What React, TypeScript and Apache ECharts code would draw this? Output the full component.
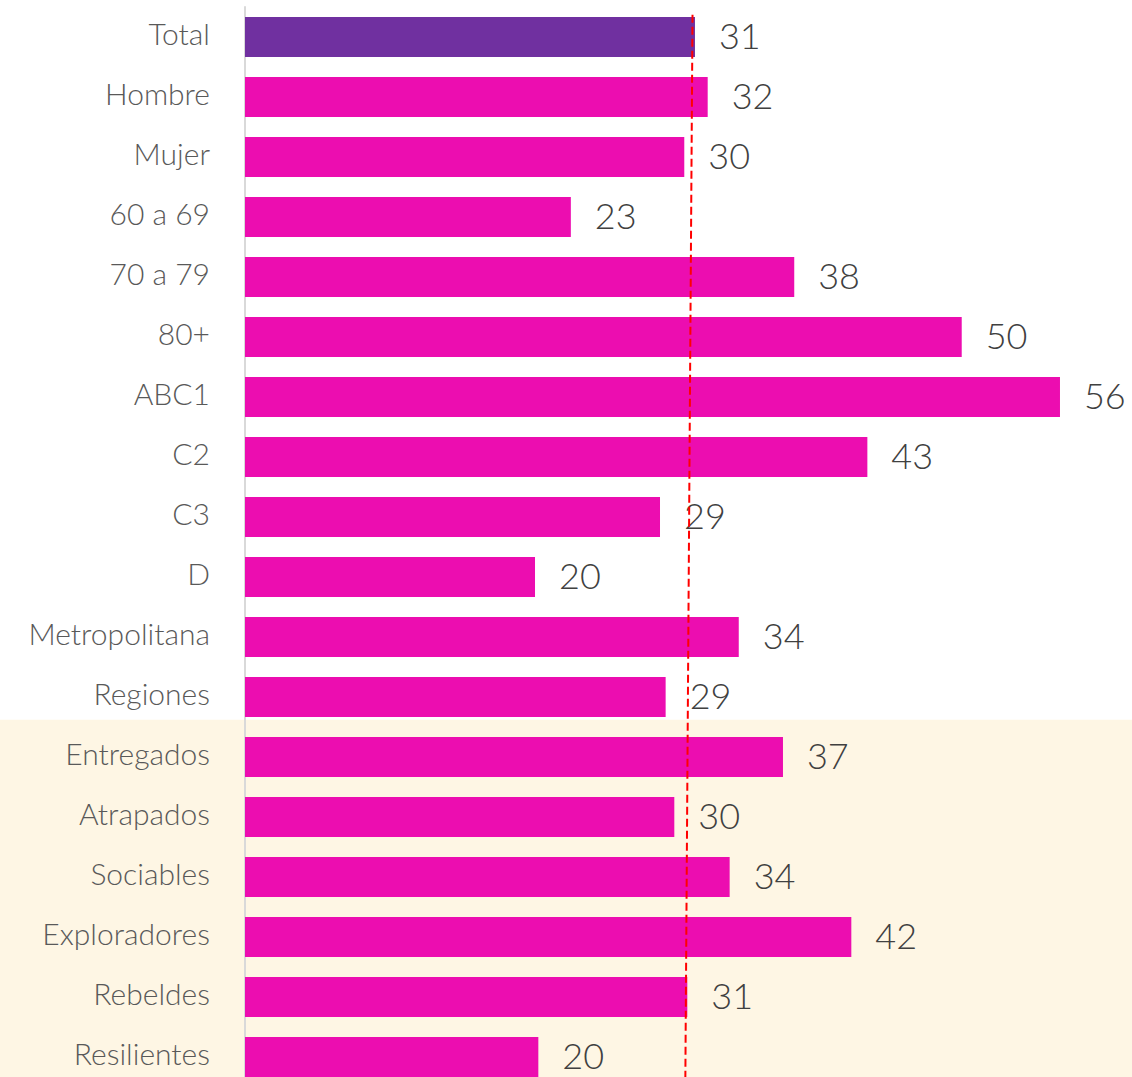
import React, { useEffect, useRef } from "react";
import * as echarts from "echarts";

const categories = [
  "Total", "Hombre", "Mujer", "60 a 69", "70 a 79", "80+", "ABC1", "C2", "C3", "D",
  "Metropolitana", "Regiones", "Entregados", "Atrapados", "Sociables", "Exploradores",
  "Rebeldes", "Resilientes",
];
const values = [
  31.14, 32.02, 30.4, 22.55, 38.01, 49.6, 56.4, 43.07, 28.72, 20.07,
  34.17, 29.11, 37.23, 29.71, 33.54, 41.96, 30.61, 20.3,
];
// reference (average) dashed line: [x value, row position]
const refLineX = [30.97, 30.47];
const refLineRow = [-0.37, 17.5];
// highlighted segment band starts between these rows
const bandStartRow = 11.38;

const TOTAL_COLOR = "#7030A0";
const BAR_COLOR = "#EC0DB0";
const BAND_COLOR = "#FEF6E4";
const FONT = "Lato";

export default function App() {
  const ref = useRef<HTMLDivElement>(null);
  useEffect(() => {
    if (!ref.current) return;
    const chart = echarts.init(ref.current, null, { renderer: "svg" });
    chart.setOption({
      animation: false,
      grid: { left: 245, top: 7, height: 1080, width: 867 },
      xAxis: { type: "value", min: 0, max: 60, show: false },
      yAxis: [
        {
          type: "category",
          data: categories,
          inverse: true,
          offset: 1,
          axisTick: { show: false },
          axisLine: { show: true, lineStyle: { color: "#d9d9d9", width: 2 } },
          axisLabel: {
            margin: 34,
            fontFamily: FONT,
            fontWeight: 300,
            fontSize: 30,
            color: "#595959",
            verticalAlign: "bottom",
            lineHeight: 8,
          },
          splitLine: { show: false },
        },
        { type: "value", min: -0.5, max: 17.5, inverse: true, show: false },
      ],
      series: [
        {
          type: "bar",
          yAxisIndex: 0,
          barWidth: 40,
          data: values.map((v, i) => ({
            value: v,
            itemStyle: { color: i === 0 ? TOTAL_COLOR : BAR_COLOR },
          })),
          label: {
            show: true,
            position: "right",
            distance: 24,
            offset: [0, -2],
            formatter: (p: any) => String(Math.round(p.value)),
            fontFamily: FONT,
            fontWeight: 300,
            fontSize: 36,
            color: "#404040",
          },
          z: 2,
        },
        {
          type: "line",
          yAxisIndex: 1,
          data: refLineX.map((x, i) => [x, refLineRow[i]]),
          symbol: "none",
          lineStyle: { color: "#FF0000", width: 2, type: [8, 4] },
          z: 5,
          silent: true,
        },
      ],
    });
    const yTop = chart.convertToPixel({ yAxisIndex: 1 }, bandStartRow) as number;
    const w = chart.getWidth();
    const h = chart.getHeight();
    chart.setOption({
      graphic: [
        {
          type: "rect",
          z: -10,
          silent: true,
          shape: { x: 0, y: yTop, width: w, height: h - yTop },
          style: { fill: BAND_COLOR },
        },
      ],
    });
    return () => chart.dispose();
  }, []);
  return (
    <div
      style={{
        position: "absolute",
        left: 0,
        top: 0,
        width: 1132,
        height: 1077,
        overflow: "hidden",
      }}
    >
      <div ref={ref} style={{ width: 1132, height: 1095 }} />
    </div>
  );
}
